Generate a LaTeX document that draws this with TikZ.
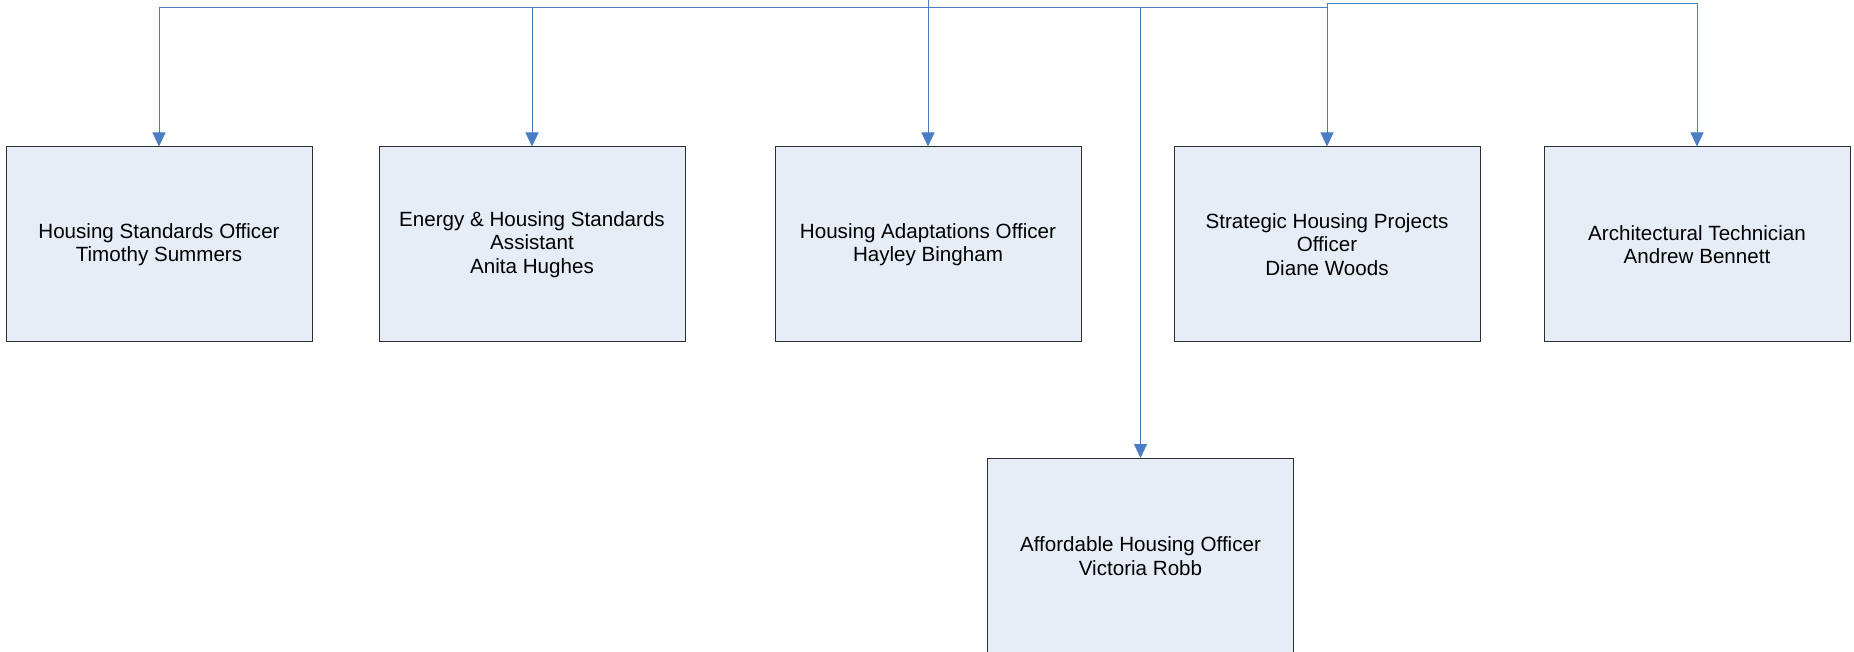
\documentclass[tikz,border=0pt]{standalone}
\usepackage{fontspec}
\setmainfont{Liberation Sans}
\usetikzlibrary{arrows.meta}
\definecolor{conncol}{HTML}{4A7EC4}
\definecolor{boxfill}{HTML}{E6EDF7}
\definecolor{boxline}{HTML}{2E2E2E}
\tikzset{
  postbox/.style={draw=boxline, line width=0.5pt, fill=boxfill, inner sep=0pt,
    minimum width=153pt, minimum height=97.5pt, align=center,
    font=\fontsize{10.3pt}{11.8pt}\selectfont},
  conn/.style={draw=conncol, line width=0.45pt},
  connarrow/.style={conn, -{Triangle[width=6.5pt,length=7pt]}}
}
\begin{document}
\begin{tikzpicture}[x=0.5pt,y=-0.5pt]
\useasboundingbox (0,0) rectangle (1854,652);
\node[postbox] (b1) at (159,244.5) {Housing Standards Officer\\Timothy Summers};
\node[postbox] (b2) at (532,244.5) {Energy \& Housing Standards\\Assistant\\Anita Hughes};
\node[postbox] (b3) at (928,244.5) {Housing Adaptations Officer\\Hayley Bingham};
\node[postbox] (b4) at (1327,244.5) {Strategic Housing Projects\\Officer\\Diane Woods};
\node[postbox] (b5) at (1697,244.5) {Architectural Technician\\Andrew Bennett};
\node[postbox] (b6) at (1140.5,556) {Affordable Housing Officer\\Victoria Robb};
\coordinate (top) at (928,-2);
\coordinate (bus) at (928,7);
\coordinate (jog) at (1327,3.5);
\draw[conn] (top) -- (bus);
\draw[connarrow] (bus) -| (b1.north);
\draw[connarrow] (bus) -| (b2.north);
\draw[connarrow] (bus) -- (b3.north);
\draw[connarrow] (bus) -| (b4.north);
\draw[connarrow] (bus) -| (b6.north);
\draw[connarrow] (bus) -| (jog) -| (b5.north);
\end{tikzpicture}
\end{document}
